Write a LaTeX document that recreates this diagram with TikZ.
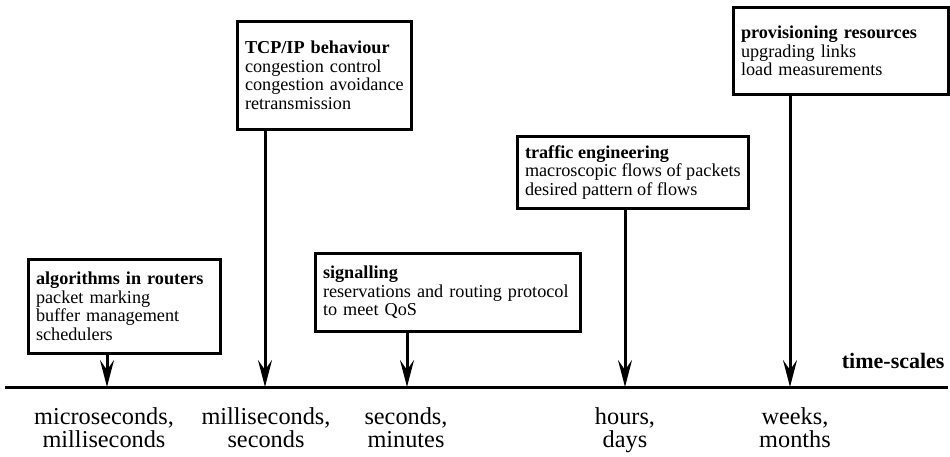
\documentclass[tikz,border=0pt]{standalone}
\usepackage{fontspec}
\setmainfont{Liberation Serif}
\usetikzlibrary{arrows.meta, positioning}

\tikzset{
	level/.style={draw, line width=3pt, anchor=north west, inner xsep=7.5pt, inner ysep=0pt, align=left,
		font=\fontsize{18.2}{18.5}\selectfont},
	scale label/.style={anchor=north, inner sep=0pt, align=center, font=\fontsize{24.3}{23.5}\selectfont}
}

\begin{document}
\begin{tikzpicture}[x=1pt, y=-1pt, ->, >={Stealth[length=27pt, width=14pt, inset=10pt]}, line width=3pt]
			\useasboundingbox (0, 0) rectangle (950, 456);

			% the time axis
			\coordinate (start)	at (5, 387);
			\coordinate (end)	at (948, 387);
			\draw[-] (start) -- (end);
			\node[anchor=base east, inner sep=0pt, font=\fontsize{22}{22}\selectfont\bfseries] (axis) at (946, 368) {time-scales};

			% points on the axis
			\coordinate (t1) at (107, 387);
			\coordinate (t2) at (265, 387);
			\coordinate (t3) at (407, 387);
			\coordinate (t4) at (625, 387);
			\coordinate (t5) at (790, 387);

			% boxes
			\node[level, text width=177pt, minimum height=94pt]	(routers)	at (27, 258)	{\textbf{algorithms in routers}\\packet marking\\buffer management\\schedulers};
			\node[level, text width=159pt, minimum height=108pt]	(tcp)		at (236, 20)	{\textbf{TCP/IP behaviour}\\congestion control\\congestion avoidance\\retransmission};
			\node[level, text width=250pt, minimum height=78pt]	(signal)	at (314, 252)	{\textbf{signalling}\\reservations and routing protocol\\to meet QoS};
			\node[level, minimum height=72pt]	(traffic)	at (516, 135)	{\textbf{traffic engineering}\\macroscopic flows of packets\\desired pattern of flows};
			\node[level, text width=200pt, minimum height=87pt]	(provision)	at (732, 6)	{\textbf{provisioning resources}\\upgrading links\\load measurements};

			\path	(routers.south -| t1)	edge (t1)
					(tcp.south -| t2)		edge (t2)
					(signal.south -| t3)	edge (t3)
					(traffic.south -| t4)	edge (t4)
					(provision.south -| t5)	edge (t5);

			% time-scale labels
			\node[scale label] (micro)	at (104, 406) {microseconds,\\milliseconds};
			\node[scale label] (milli)	at (266, 406) {milliseconds,\\seconds};
			\node[scale label] (sec)	at (406, 406) {seconds,\\minutes};
			\node[scale label] (hours)	at (625, 406) {hours,\\days};
			\node[scale label] (weeks)	at (795, 406) {weeks,\\months};
		\end{tikzpicture}
\end{document}
